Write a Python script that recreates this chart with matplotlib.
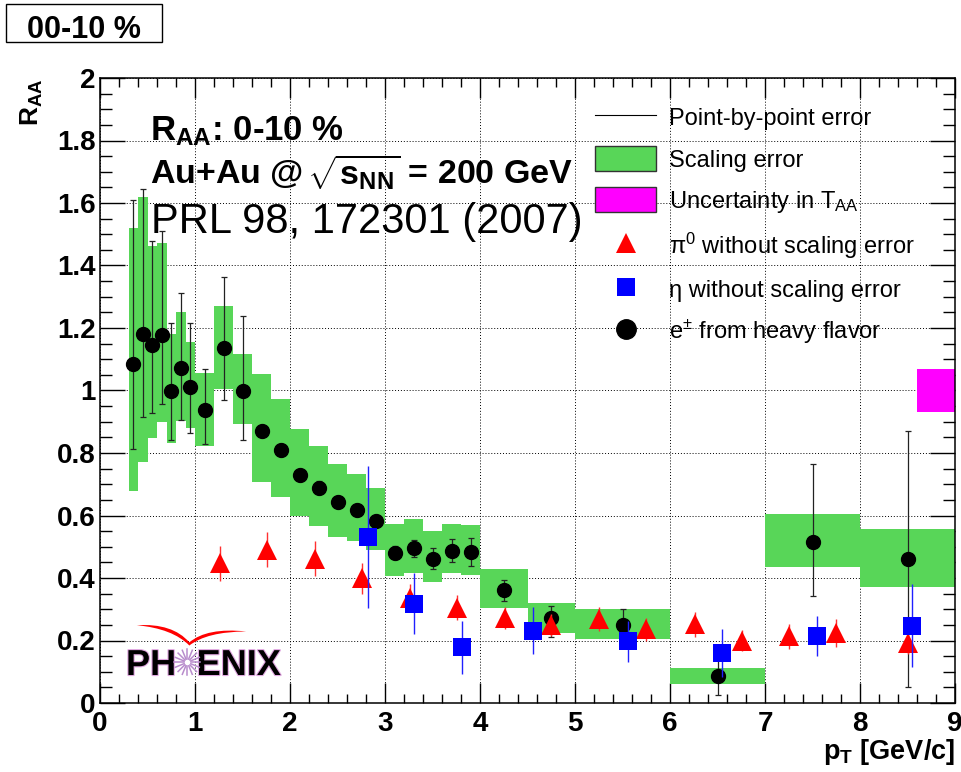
import matplotlib
matplotlib.use('Agg')
import matplotlib.pyplot as plt
import matplotlib.patheffects as pe
import numpy as np
from matplotlib.lines import Line2D
from matplotlib.patches import Patch, Rectangle, PathPatch
from matplotlib.path import Path
from matplotlib.ticker import MultipleLocator, FuncFormatter

# ---------- fonts ----------
plt.rcParams['font.family'] = ['Liberation Sans', 'DejaVu Sans']
plt.rcParams['mathtext.fontset'] = 'custom'
plt.rcParams['mathtext.rm'] = 'Liberation Sans'
plt.rcParams['mathtext.it'] = 'Liberation Sans:italic'
plt.rcParams['mathtext.bf'] = 'Liberation Sans:bold'
plt.rcParams['mathtext.sf'] = 'Liberation Sans'

GREEN = '#58d658'
MAGENTA = '#ff00ff'

# ---------- data ----------
# e+- from heavy flavor decays, 0-10 % central Au+Au
e_pt = [0.35, 0.45, 0.55, 0.65, 0.75, 0.85, 0.95, 1.1, 1.3, 1.5, 1.7, 1.9, 2.1, 2.3,
        2.5, 2.7, 2.9, 3.1, 3.3, 3.5, 3.7, 3.9, 4.25, 4.75, 5.5, 6.5, 7.5, 8.5]
e_bin_w = [0.1] * 7 + [0.2] * 15 + [0.5] * 2 + [1.0] * 4
e_raa = [1.085, 1.18, 1.147, 1.178, 1.00, 1.073, 1.012, 0.937, 1.137, 1.00, 0.870, 0.81,
         0.730, 0.689, 0.643, 0.618, 0.582, 0.481, 0.497, 0.461, 0.487, 0.482, 0.362,
         0.271, 0.25, 0.086, 0.514, 0.46]
# point-by-point error, lower / upper end
e_stat_lo = [0.812, 0.914, 0.929, 0.958, 0.842, 0.905, 0.863, 0.828, 0.969, 0.842, 0.85,
             0.79, 0.71, 0.669, 0.623, 0.598, 0.562, 0.461, 0.467, 0.428, 0.45, 0.438,
             0.327, 0.212, 0.20, 0.025, 0.343, 0.05]
e_stat_hi = [1.611, 1.646, 1.479, 1.511, 1.217, 1.313, 1.217, 1.068, 1.362, 1.237, 0.89,
             0.83, 0.75, 0.709, 0.663, 0.638, 0.602, 0.501, 0.522, 0.495, 0.524, 0.527,
             0.394, 0.31, 0.30, 0.15, 0.764, 0.871]
# scaling error band, lower / upper end
e_sys_lo = [0.68, 0.772, 0.849, 0.898, 0.831, 0.903, 0.879, 0.823, 1.004, 0.893, 0.708,
            0.658, 0.598, 0.568, 0.532, 0.517, 0.49, 0.406, 0.415, 0.388, 0.415, 0.409,
            0.304, 0.225, 0.204, 0.061, 0.434, 0.372]
e_sys_hi = [1.521, 1.618, 1.463, 1.472, 1.18, 1.25, 1.155, 1.057, 1.27, 1.117, 1.053,
            0.973, 0.876, 0.823, 0.766, 0.732, 0.689, 0.573, 0.588, 0.549, 0.573, 0.569,
            0.428, 0.321, 0.30, 0.113, 0.605, 0.558]

# pi0
pi_pt = [1.26, 1.76, 2.26, 2.76, 3.26, 3.76, 4.26, 4.75, 5.25, 5.75, 6.26, 6.76, 7.25, 7.75, 8.5]
pi_raa = [0.448, 0.49, 0.462, 0.399, 0.337, 0.305, 0.273, 0.251, 0.269, 0.236, 0.252, 0.2,
          0.214, 0.225, 0.191]
pi_err = [0.056, 0.056, 0.057, 0.05, 0.045, 0.04, 0.035, 0.035, 0.037, 0.037, 0.04, 0.035,
          0.04, 0.045, 0.035]

# eta
eta_pt = [2.82, 3.31, 3.81, 4.56, 5.56, 6.55, 7.55, 8.55]
eta_raa = [0.53, 0.318, 0.178, 0.232, 0.197, 0.159, 0.214, 0.247]
eta_err = [0.227, 0.097, 0.084, 0.075, 0.065, 0.077, 0.064, 0.133]

# T_AA normalisation uncertainty at R_AA = 1
taa_x, taa_w = 8.8, 0.4
taa_center, taa_err = 1.0, 0.07

# ---------- figure ----------
fig = plt.figure(figsize=(9.61, 7.72), dpi=100)
ax = fig.add_axes([100 / 961, 69 / 772, 855 / 961, 625 / 772])

e_raa_a = np.array(e_raa)
ax.bar(e_pt, np.array(e_sys_hi) - np.array(e_sys_lo), bottom=e_sys_lo, width=e_bin_w,
       color=GREEN, linewidth=0, zorder=2)
ax.bar(taa_x, 2 * taa_err, bottom=taa_center - taa_err, width=taa_w,
       color=MAGENTA, linewidth=0, zorder=2)

ax.errorbar(e_pt, e_raa,
            yerr=[e_raa_a - np.array(e_stat_lo), np.array(e_stat_hi) - e_raa_a],
            fmt='o', color='black', ecolor='#222222', ms=10, elinewidth=0.9,
            capsize=2, capthick=0.9, zorder=4)
ax.errorbar(pi_pt, pi_raa, yerr=pi_err, fmt='^', color='red', ecolor='#ff3030',
            ms=14, mew=0, elinewidth=1, capsize=2.5, capthick=1, zorder=5)
ax.errorbar(eta_pt, eta_raa, yerr=eta_err, fmt='s', color='#0000ff', ecolor='#2020ff',
            ms=13, mew=0, elinewidth=1, capsize=2.5, capthick=1, zorder=6)

# ---------- axes ----------
ax.set_xlim(0, 9)
ax.set_ylim(0, 2)
ax.xaxis.set_major_locator(MultipleLocator(1))
ax.xaxis.set_minor_locator(MultipleLocator(0.2))
ax.yaxis.set_major_locator(MultipleLocator(0.2))
ax.yaxis.set_minor_locator(MultipleLocator(0.05))
fmt = FuncFormatter(lambda v, p: f'{v:g}')
ax.xaxis.set_major_formatter(fmt)
ax.yaxis.set_major_formatter(fmt)
ax.tick_params(which='both', direction='in', top=True, right=True, width=1)
ax.tick_params(axis='x', which='major', length=14.4, pad=6, labelsize=20)
ax.tick_params(axis='x', which='minor', length=6.5)
ax.tick_params(axis='y', which='major', length=18, pad=3, labelsize=20)
ax.tick_params(axis='y', which='minor', length=8.6)
plt.setp(ax.get_xticklabels() + ax.get_yticklabels(), fontweight='bold')
for s in ax.spines.values():
    s.set_linewidth(1.1)
ax.grid(True, which='major', linestyle=(0, (1, 2)), color='black', linewidth=0.7)
ax.set_axisbelow(True)

ax.text(-0.08, 1.0, r'R$_{\mathbf{AA}}$', transform=ax.transAxes, rotation=90,
        ha='center', va='top', fontsize=19, fontweight='bold')
ax.text(1.0, -0.09, r'p$_{\mathbf{T}}$ [GeV/c]', transform=ax.transAxes,
        ha='right', va='baseline', fontsize=19.5, fontweight='bold')

# ---------- labels inside the frame ----------
ax.text(0.058, 0.9008, r'R$_{\mathbf{AA}}$: 0-10 %', transform=ax.transAxes,
        fontsize=25, fontweight='bold', va='baseline', zorder=7)
ax.text(0.058, 0.8288, r'Au+Au @$\,\sqrt{\mathbf{s}_{\mathbf{NN}}}$ = 200 GeV',
        transform=ax.transAxes, fontsize=24.5, fontweight='bold', va='baseline', zorder=7)
ax.text(0.0596, 0.752, 'PRL 98, 172301 (2007)', transform=ax.transAxes,
        fontsize=30, va='baseline', zorder=7)

# ---------- legend ----------
handles = [
    Line2D([], [], color='black', lw=0.8),
    Patch(facecolor=GREEN, edgecolor='#333333', lw=1),
    Patch(facecolor=MAGENTA, edgecolor='#333333', lw=1),
    Line2D([], [], ls='none', marker='^', color='red', ms=14, mew=0),
    Line2D([], [], ls='none', marker='s', color='#0000ff', ms=13.5, mew=0),
    Line2D([], [], ls='none', marker='o', color='black', ms=14),
]
labels = ['Point-by-point error', 'Scaling error', r'Uncertainty in T$_{\mathrm{AA}}$',
          r'$\mathrm{\pi}^{0}$ without scaling error', 'η without scaling error',
          r'e$^{\pm}$ from heavy flavor']
ax.legend(handles, labels, loc='upper left', bbox_to_anchor=(0.579, 0.957),
          frameon=False, fontsize=17, handlelength=2.6, handleheight=1.25,
          handletextpad=0.55, labelspacing=0.67, borderpad=0, borderaxespad=0)

# ---------- PHENIX logo ----------
outline = [pe.withStroke(linewidth=1.6, foreground='#e0a8e0')]
ax.text(0.0889, 0.0448, 'PH', transform=ax.transAxes, ha='right', va='baseline',
        fontsize=26, fontweight='bold', path_effects=outline, zorder=7)
ax.text(0.113, 0.0448, 'ENIX', transform=ax.transAxes, ha='left', va='baseline',
        fontsize=26, fontweight='bold', path_effects=outline, zorder=7)
cx, cy, r = 0.1021, 0.0651, 13
for a in np.deg2rad(np.arange(0, 180, 22.5)):
    dx, dy = r * np.cos(a) / 855, r * np.sin(a) / 625
    ax.plot([cx - dx, cx + dx], [cy - dy, cy + dy], color='#b88ccc', lw=1.1,
            transform=ax.transAxes, zorder=7)
ax.plot([cx], [cy], 'o', color='white', ms=3, transform=ax.transAxes, zorder=8)
swoosh = Path(
    [(0.043, 0.1245), (0.085, 0.128), (0.1045, 0.097), (0.125, 0.121), (0.171, 0.1145),
     (0.125, 0.114), (0.1045, 0.092), (0.085, 0.119), (0.043, 0.1245), (0.043, 0.1245)],
    [Path.MOVETO, Path.CURVE3, Path.CURVE3, Path.CURVE3, Path.CURVE3,
     Path.CURVE3, Path.CURVE3, Path.CURVE3, Path.CURVE3, Path.CLOSEPOLY])
ax.add_patch(PathPatch(swoosh, transform=ax.transAxes, facecolor='red',
                       edgecolor='none', zorder=7))

# ---------- centrality tag ----------
fig.add_artist(Rectangle((6 / 961, 1 - 42 / 772), 156 / 961, 38 / 772,
                         transform=fig.transFigure, fill=False, ec='black', lw=1))
fig.text(83.5 / 961, 1 - 38.3 / 772, '00-10 %', ha='center', va='baseline',
         fontsize=22, fontweight='bold')

fig.savefig('out.png', dpi=100)
